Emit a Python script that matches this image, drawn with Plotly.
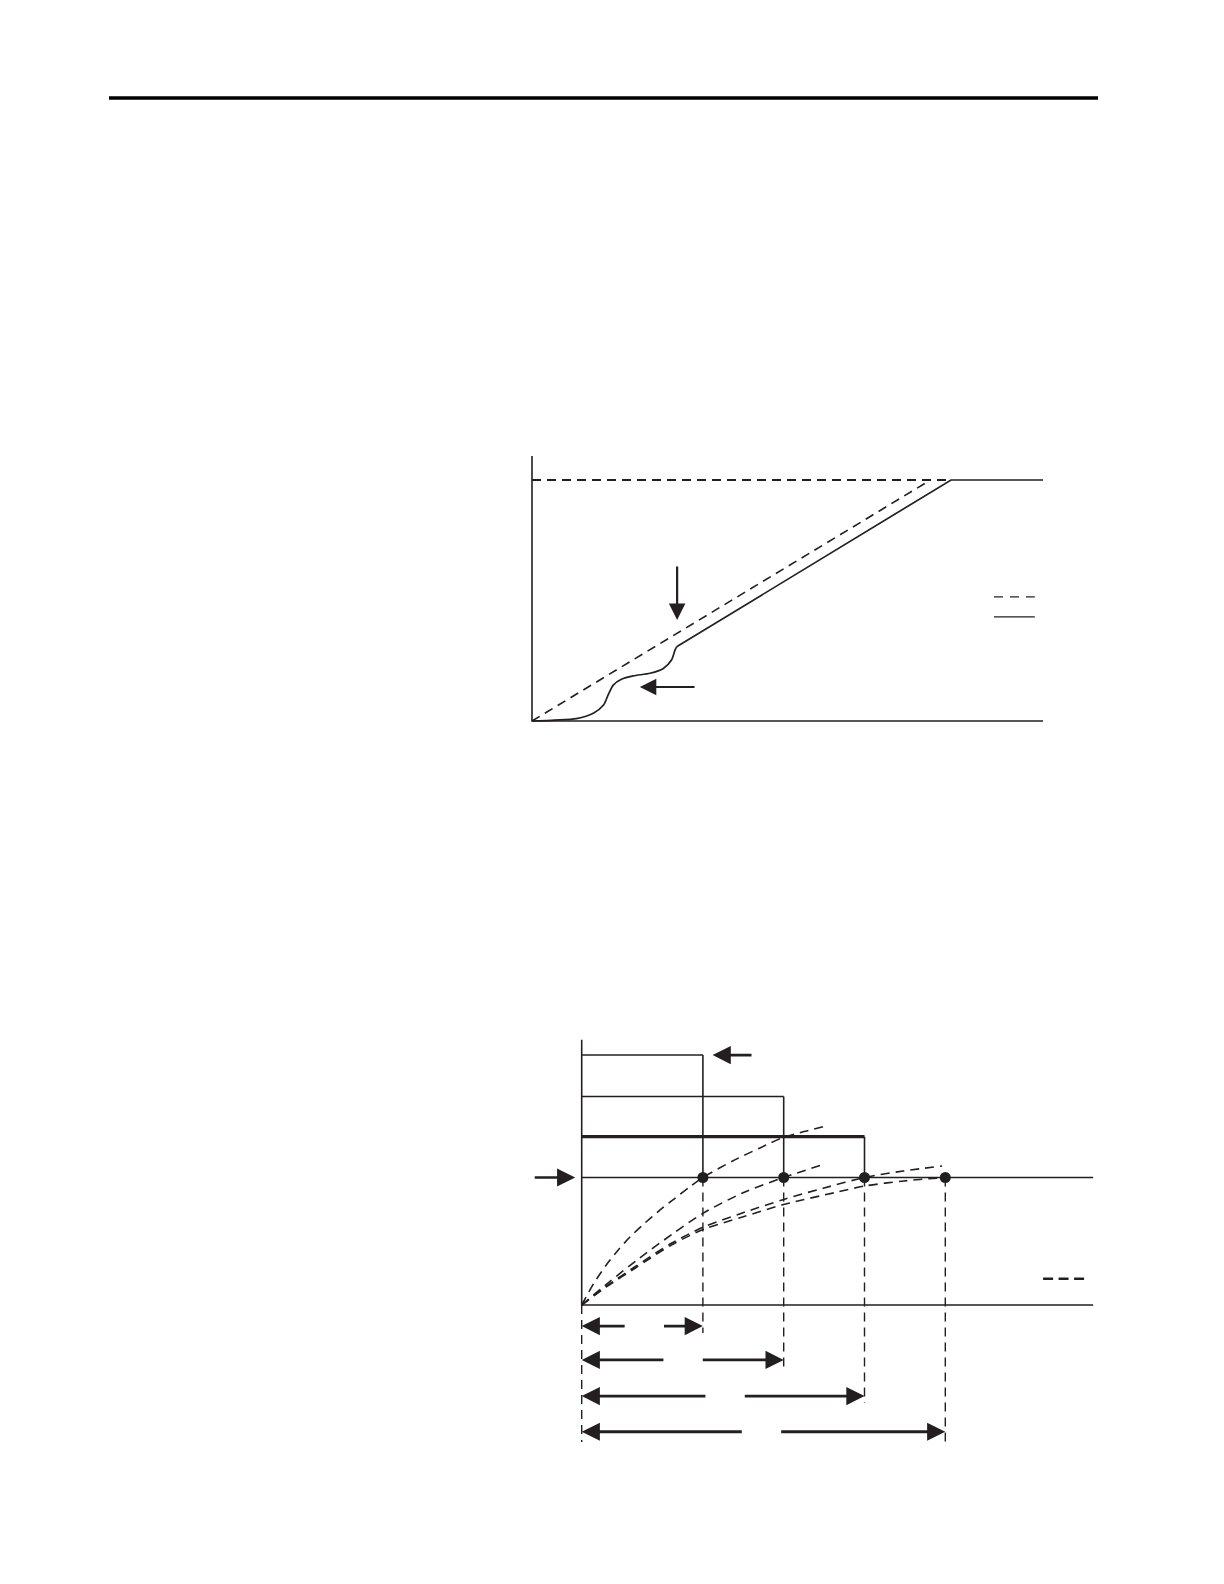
import plotly.graph_objects as go

# page size and the browser's default 8px body margin
W, H = 1224, 1584
OFF = 8
FW, FH = W - 2 * OFF, H - 2 * OFF
INK = "#231f20"
DASH = "9px,6px"

# ---------------- Chart 1 (upper diagram) ----------------
# units: x 0..100 along the time axis, y 0..100 = full level
c1_axis_x = [0, 0, 100]
c1_axis_y = [110, 0, 0]
c1_ramp_x = [0, 78]
c1_ramp_y = [0, 100]
c1_level_x = [0, 82]
c1_level_y = [100, 100]
c1_start_x = [0, 4.5, 8.7, 12.0, 14.0, 14.9, 15.9, 17.5, 19.8, 23.1, 25.7, 27.3, 28.0, 28.3]
c1_start_y = [0, 0.4, 1.0, 3.2, 6.6, 10.8, 14.9, 17.3, 18.7, 19.8, 21.8, 25.3, 29.5, 30.8]
c1_track_x = [28.3, 82, 100]
c1_track_y = [30.8, 100, 100]
c1_legend_x = [90.4, 98.4]
c1_legend_dash_y = [51.5, 51.5]
c1_legend_solid_y = [43.2, 43.2]
c1_arrow_head_x = [28.4, 21.1]
c1_arrow_head_y = [41.9, 14.1]
c1_arrow_tail_x = [28.4, 32.1]
c1_arrow_tail_y = [64.7, 14.1]

# ---------------- Chart 2 (lower diagram) ----------------
# units: x periods, y 0..100 = target level
c2_axis_x = [0, 0, 63.3]
c2_axis_y = [208, 0, 0]
c2_target_x = [0, 63.3]
c2_target_y = [100, 100]
c2_periods = [15, 25, 35, 45]
c2_rect_tops = [196, 163.5, 132]
c2_rect_widths = [1.5, 1.5, 3.2]
c2_drop_bottoms = [-22, -48.6, -76.9, -107.5]
c2_axis_drop_bottom = -107.5
c2_curve_a_x = [0, 1.5, 3, 4.5, 6, 7.5, 9.5, 11.5, 13.3, 15, 19, 22, 25, 27.5, 30]
c2_curve_a_y = [0, 17, 31, 43, 53.5, 62.5, 73.5, 83.5, 92.3, 100, 114, 123, 131.5, 136, 140]
c2_curve_b_x = [0, 3.5, 7.2, 11.2, 15, 19.9, 25, 29.7]
c2_curve_b_y = [0, 18.5, 37, 55.5, 71.9, 87.8, 100, 109.8]
c2_curve_c_x = [0, 3, 6.6, 11.1, 15.2, 19.8, 25.1, 30, 35, 39.8, 44.6]
c2_curve_c_y = [0, 14.5, 30, 48.4, 61.5, 72, 83, 91.8, 100, 105.1, 109]
c2_curve_d_x = [0, 3, 6.6, 11.1, 15.2, 19.8, 25.1, 31.3, 35, 39.9, 45]
c2_curve_d_y = [0, 14, 28.8, 47.1, 59.6, 68.8, 79, 88.1, 93.3, 97.3, 100]
c2_span_rows = [-16.5, -43.1, -71.4, -99.4]
c2_span_left_tails = [5.5, 10.3, 15.5, 20.0]
c2_span_right_tails = [10.0, 14.8, 20.0, 24.5]
c2_top_arrow = dict(head=(16.2, 196), tail=(21.2, 196))
c2_side_arrow = dict(head=(-0.8, 100), tail=(-6.0, 100))
c2_legend_x = [57.1, 62.2]
c2_legend_y = [20.6, 20.6]

fig = go.Figure()


def line(x, y, xa, ya, width=1.5, dash=None, shape="linear", smoothing=None):
    ln = dict(color=INK, width=width, shape=shape)
    if dash:
        ln["dash"] = dash
    if smoothing is not None:
        ln["smoothing"] = smoothing
    fig.add_trace(go.Scatter(x=x, y=y, xaxis=xa, yaxis=ya, mode="lines",
                             line=ln, hoverinfo="skip", showlegend=False))


# chart 1
line(c1_axis_x, c1_axis_y, "x", "y", 1.6)
line(c1_level_x, c1_level_y, "x", "y", 2.0, DASH)
line(c1_ramp_x, c1_ramp_y, "x", "y", 1.6, DASH)
line(c1_start_x, c1_start_y, "x", "y", 1.7, shape="spline", smoothing=0.7)
line(c1_track_x, c1_track_y, "x", "y", 1.7)
line(c1_legend_x, c1_legend_dash_y, "x", "y", 1.4, "9px,7px")
line(c1_legend_x, c1_legend_solid_y, "x", "y", 1.4)

# chart 2
line(c2_axis_x, c2_axis_y, "x2", "y2", 1.6)
line(c2_target_x, c2_target_y, "x2", "y2", 1.6)
for p, top, w in zip(c2_periods, c2_rect_tops, c2_rect_widths):
    line([0, p], [top, top], "x2", "y2", w)
    line([p, p], [top, 100], "x2", "y2", 1.6)
for p, b in zip(c2_periods, c2_drop_bottoms):
    line([p, p], [100, b], "x2", "y2", 1.4, DASH)
line([0, 0], [0, c2_axis_drop_bottom], "x2", "y2", 1.4, DASH)
for cx, cy in [(c2_curve_a_x, c2_curve_a_y), (c2_curve_b_x, c2_curve_b_y),
               (c2_curve_c_x, c2_curve_c_y), (c2_curve_d_x, c2_curve_d_y)]:
    line(cx, cy, "x2", "y2", 1.6, DASH, shape="spline", smoothing=0.8)
line(c2_legend_x, c2_legend_y, "x2", "y2", 2.6, "10px,5.5px")
fig.add_trace(go.Scatter(x=c2_periods, y=[100] * len(c2_periods), xaxis="x2", yaxis="y2",
                         mode="markers", marker=dict(color=INK, size=11),
                         hoverinfo="skip", showlegend=False))

annotations = []


def arrow(hx, hy, tx, ty, xa, ya, width=2.2, size=1.3):
    annotations.append(dict(x=hx, y=hy, ax=tx, ay=ty, xref=xa, yref=ya, axref=xa, ayref=ya,
                            text="", showarrow=True, arrowhead=2, arrowsize=size,
                            arrowwidth=width, arrowcolor=INK, standoff=0, startstandoff=0))


for hx, hy, tx, ty in zip(c1_arrow_head_x, c1_arrow_head_y, c1_arrow_tail_x, c1_arrow_tail_y):
    arrow(hx, hy, tx, ty, "x", "y", 2.2, 1.5)

arrow(*c2_top_arrow["head"], *c2_top_arrow["tail"], "x2", "y2", 2.6, 1.4)
arrow(*c2_side_arrow["head"], *c2_side_arrow["tail"], "x2", "y2", 2.6, 1.4)
for row, lt, rt, p in zip(c2_span_rows, c2_span_left_tails, c2_span_right_tails, c2_periods):
    arrow(0, row, lt, row, "x2", "y2", 2.8, 1.3)
    arrow(p, row, rt, row, "x2", "y2", 2.8, 1.3)


def axis_cfg(p0, scale, lo_px, hi_px, flip=False):
    # page pixels -> figure domain; unit 0 sits at page pixel p0, `scale` px per unit
    if not flip:
        dom = [(lo_px - OFF) / FW, (hi_px - OFF) / FW]
        rng = [(lo_px - p0) / scale, (hi_px - p0) / scale]
    else:
        dom = [(FH - (hi_px - OFF)) / FH, (FH - (lo_px - OFF)) / FH]
        rng = [(p0 - hi_px) / scale, (p0 - lo_px) / scale]
    return dom, rng


hidden = dict(visible=False, showgrid=False, zeroline=False, fixedrange=True)
d, r = axis_cfg(532, 5.11, 490, 1075)
fig.update_layout(xaxis=dict(domain=d, range=r, anchor="y", **hidden))
d, r = axis_cfg(721, 2.41, 430, 745, flip=True)
fig.update_layout(yaxis=dict(domain=d, range=r, anchor="x", **hidden))
d, r = axis_cfg(581.7, 8.08, 515, 1115)
fig.update_layout(xaxis2=dict(domain=d, range=r, anchor="y2", **hidden))
d, r = axis_cfg(1305, 1.275, 1020, 1460, flip=True)
fig.update_layout(yaxis2=dict(domain=d, range=r, anchor="x2", **hidden))

hy = 1 - (98 - OFF) / FH
fig.update_layout(
    width=FW, height=FH, margin=dict(l=0, r=0, t=0, b=0, pad=0),
    paper_bgcolor="white", plot_bgcolor="rgba(0,0,0,0)",
    showlegend=False, annotations=annotations,
    shapes=[dict(type="line", xref="paper", yref="paper",
                 x0=(109 - OFF) / FW, x1=(1098 - OFF) / FW, y0=hy, y1=hy,
                 line=dict(color="black", width=3.5))],
)

fig.write_html("out.html")
